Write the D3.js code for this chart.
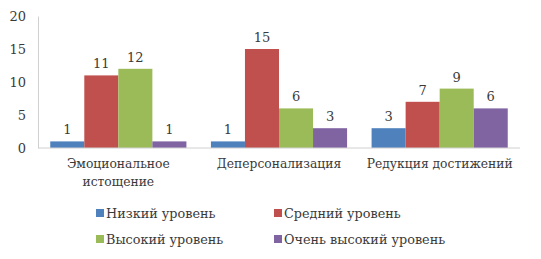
<!DOCTYPE html>
<html>
<head>
<meta charset="utf-8">
<script src="https://cdn.jsdelivr.net/npm/d3@7"></script>
<style>
  body { margin: 0; background: #fff; }
</style>
</head>
<body>
<div id="container"></div>
<script>
const width = 541, height = 259;
const margin = { top: 16, right: 21, bottom: 111, left: 38 };
const iw = width - margin.left - margin.right;
const ih = height - margin.top - margin.bottom;

// Data
const categories = [["Эмоциональное", "истощение"], ["Деперсонализация"], ["Редукция достижений"]];
const seriesNames = ["Низкий уровень", "Средний уровень", "Высокий уровень", "Очень высокий уровень"];
const seriesColors = ["#4F81BD", "#C0504D", "#9BBB59", "#8064A2"];
const lowLevel = [1, 1, 3];
const midLevel = [11, 15, 7];
const highLevel = [12, 6, 9];
const veryHighLevel = [1, 3, 6];
const yTicks = [0, 5, 10, 15, 20];

const seriesValues = [lowLevel, midLevel, highLevel, veryHighLevel];
const catIdx = categories.map((_, i) => i);
const serif = "DejaVu Serif";
const ink = "#3a3a3a";

const svg = d3.select("#container").append("svg")
  .attr("width", width).attr("height", height)
  .attr("font-family", serif);
const g = svg.append("g").attr("transform", `translate(${margin.left},${margin.top})`);

const x0 = d3.scaleBand().domain(catIdx).range([0, iw]).paddingInner(0).paddingOuter(0);
const x1 = d3.scaleBand().domain(d3.range(seriesNames.length))
  .range([0, x0.bandwidth()]).paddingInner(0).paddingOuter(0.36);
const y = d3.scaleLinear().domain([0, 20]).range([ih, 0]);

// Bars
seriesValues.forEach((vals, si) => {
  g.selectAll(null).data(vals).enter().append("rect")
    .attr("x", (d, i) => x0(i) + x1(si))
    .attr("y", d => y(d))
    .attr("width", x1.bandwidth())
    .attr("height", d => ih - y(d))
    .attr("fill", seriesColors[si]);
  g.selectAll(null).data(vals).enter().append("text")
    .attr("x", (d, i) => x0(i) + x1(si) + x1.bandwidth() / 2)
    .attr("y", d => y(d) - 7)
    .attr("text-anchor", "middle")
    .attr("fill", ink)
    .attr("font-family", serif)
    .attr("font-size", 13)
    .text(d => d);
});

// Y axis
const yAxis = g.append("g").call(d3.axisLeft(y).tickValues(yTicks).tickSize(0).tickPadding(12));
yAxis.attr("font-family", serif).attr("font-size", 13);
yAxis.select(".domain").attr("stroke", "#d0d0d0");
yAxis.selectAll("text").attr("fill", ink);

// Baseline
g.append("line").attr("x1", 0).attr("x2", iw).attr("y1", ih).attr("y2", ih)
  .attr("stroke", "#d0d0d0");

// Category labels
categories.forEach((lines, i) => {
  const t = g.append("text")
    .attr("x", x0(i) + x0.bandwidth() / 2)
    .attr("y", ih + 20)
    .attr("text-anchor", "middle")
    .attr("fill", ink)
    .attr("font-family", serif)
    .attr("font-size", 12.3);
  lines.forEach((ln, j) => t.append("tspan")
    .attr("x", x0(i) + x0.bandwidth() / 2)
    .attr("dy", j === 0 ? 0 : 18)
    .text(ln));
});

// Legend
const legendCols = [96, 274];
const legendRows = [214, 240];
seriesNames.forEach((name, i) => {
  const lx = legendCols[i % 2], ly = legendRows[Math.floor(i / 2)];
  svg.append("rect").attr("x", lx).attr("y", ly - 5).attr("width", 8).attr("height", 8)
    .attr("fill", seriesColors[i]);
  svg.append("text").attr("x", lx + 10).attr("y", ly + 4)
    .attr("fill", ink)
    .attr("font-family", serif)
    .attr("font-size", 12.8).text(name);
});
</script>
</body>
</html>
